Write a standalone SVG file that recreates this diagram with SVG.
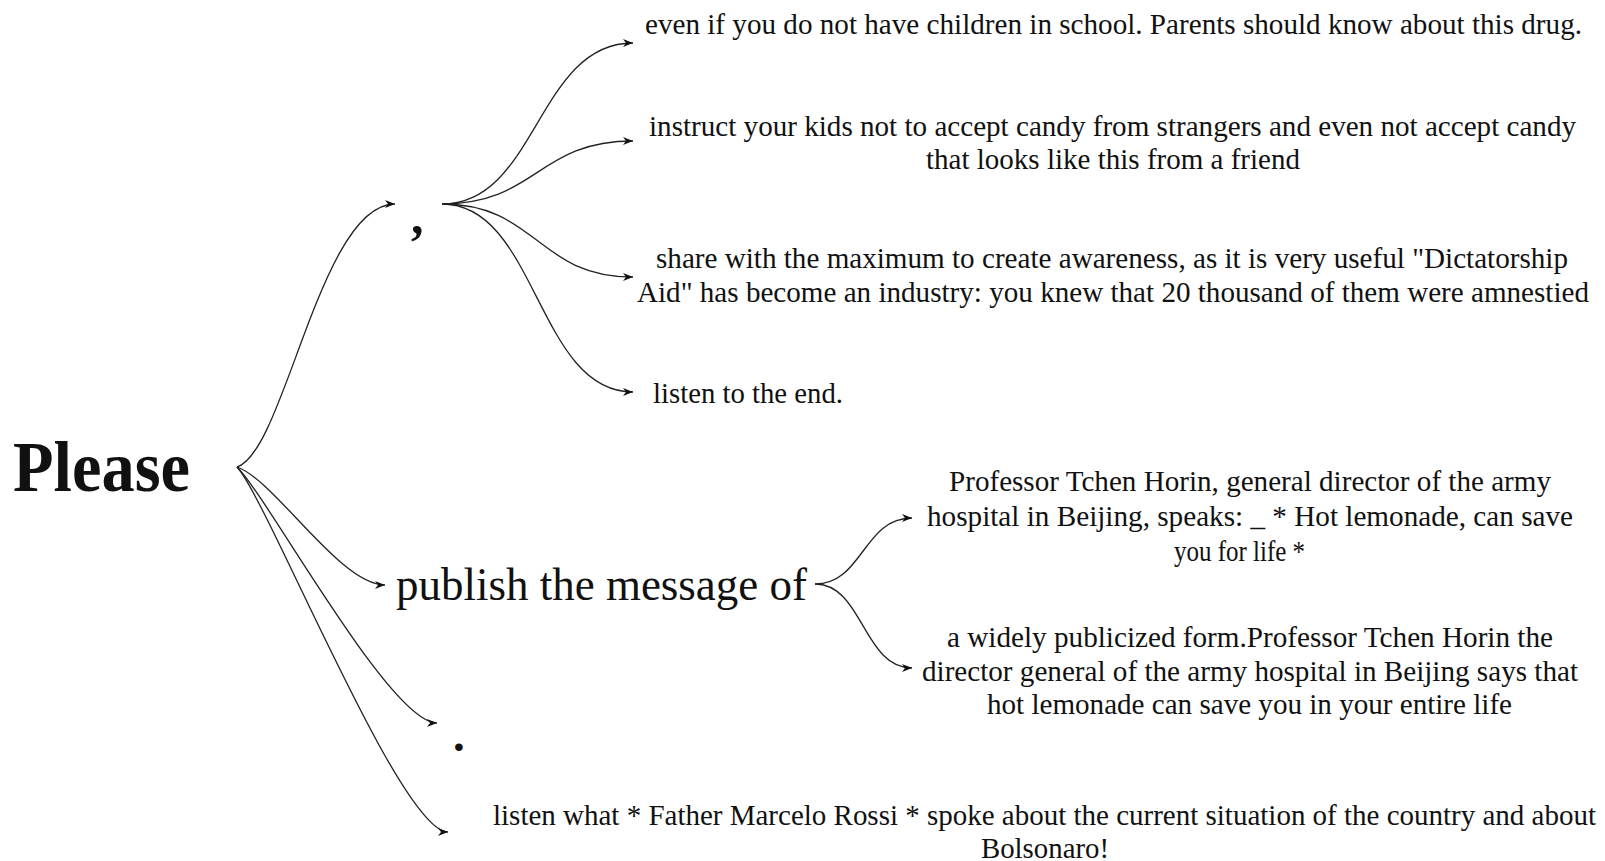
<svg xmlns="http://www.w3.org/2000/svg" width="1605" height="861" viewBox="0 0 1605 861">
<style>
text{font-family:"Liberation Serif", "Times New Roman", serif;fill:#111;}
.t{font-size:29.5px;}
.c{fill:none;stroke:#222;stroke-width:1.3;marker-end:url(#ah);}
</style>
<defs>
<marker id="ah" markerUnits="userSpaceOnUse" markerWidth="11" markerHeight="9" refX="10" refY="4.5" orient="auto">
<path d="M0,0.5 L10,4.5 L0,8.5 L3,4.5 z" fill="#111"/>
</marker>
</defs>
<rect width="1605" height="861" fill="#fff"/>
<g id="connectors">
<path class="c" d="M237,467 C285,452 320,204 395,204"/>
<path class="c" d="M237,467 C275,480 340,585 385,585"/>
<path class="c" d="M237,467 C270,500 390,723 437,723"/>
<path class="c" d="M237,467 C268,500 400,832 448,832"/>
<path class="c" d="M442,204 C537,204 537,43 633,43"/>
<path class="c" d="M442,204 C537,204 537,141 633,141"/>
<path class="c" d="M442,204 C537,204 537,277 633,277"/>
<path class="c" d="M442,204 C537,204 537,392 633,392"/>
<path class="c" d="M815,584 C863,584 863,518 912,518"/>
<path class="c" d="M815,584 C863,584 863,668 912,668"/>
</g>
<g id="node-please"><text x="13" y="491" font-size="72" font-weight="bold" textLength="177" lengthAdjust="spacingAndGlyphs">Please</text></g>
<g id="node-comma"><text x="411" y="233" font-size="50" font-weight="bold">,</text></g>
<g id="node-publish"><text x="396" y="600" font-size="46" textLength="411" lengthAdjust="spacingAndGlyphs">publish the message of</text></g>
<g id="node-dot"><text x="453" y="751" font-size="47" font-weight="bold">.</text></g>
<g id="node-t1"><text class="t" x="645" y="34" textLength="937" lengthAdjust="spacingAndGlyphs">even if you do not have children in school. Parents should know about this drug.</text></g>
<g id="node-t2">
<text class="t" x="649" y="136" textLength="927" lengthAdjust="spacingAndGlyphs">instruct your kids not to accept candy from strangers and even not accept candy</text>
<text class="t" x="926" y="169" textLength="374" lengthAdjust="spacingAndGlyphs">that looks like this from a friend</text>
</g>
<g id="node-t3">
<text class="t" x="656" y="268" textLength="912" lengthAdjust="spacingAndGlyphs">share with the maximum to create awareness, as it is very useful "Dictatorship</text>
<text class="t" x="637" y="302" textLength="952" lengthAdjust="spacingAndGlyphs">Aid" has become an industry: you knew that 20 thousand of them were amnestied</text>
</g>
<g id="node-t4"><text class="t" x="653" y="403" textLength="190" lengthAdjust="spacingAndGlyphs">listen to the end.</text></g>
<g id="node-p1">
<text class="t" x="949" y="491" textLength="602" lengthAdjust="spacingAndGlyphs">Professor Tchen Horin, general director of the army</text>
<text class="t" x="927" y="526" textLength="646" lengthAdjust="spacingAndGlyphs">hospital in Beijing, speaks: _ * Hot lemonade, can save</text>
<text class="t" x="1174" y="561" textLength="131" lengthAdjust="spacingAndGlyphs">you for life *</text>
</g>
<g id="node-p2">
<text class="t" x="947" y="647" textLength="606" lengthAdjust="spacingAndGlyphs">a widely publicized form.Professor Tchen Horin the</text>
<text class="t" x="922" y="681" textLength="656" lengthAdjust="spacingAndGlyphs">director general of the army hospital in Beijing says that</text>
<text class="t" x="987" y="714" textLength="525" lengthAdjust="spacingAndGlyphs">hot lemonade can save you in your entire life</text>
</g>
<g id="node-listen">
<text class="t" x="493" y="825" font-size="29" textLength="1103" lengthAdjust="spacingAndGlyphs" style="font-size:29px">listen what * Father Marcelo Rossi * spoke about the current situation of the country and about</text>
<text class="t" x="981" y="858" textLength="128" lengthAdjust="spacingAndGlyphs">Bolsonaro!</text>
</g>
</svg>
